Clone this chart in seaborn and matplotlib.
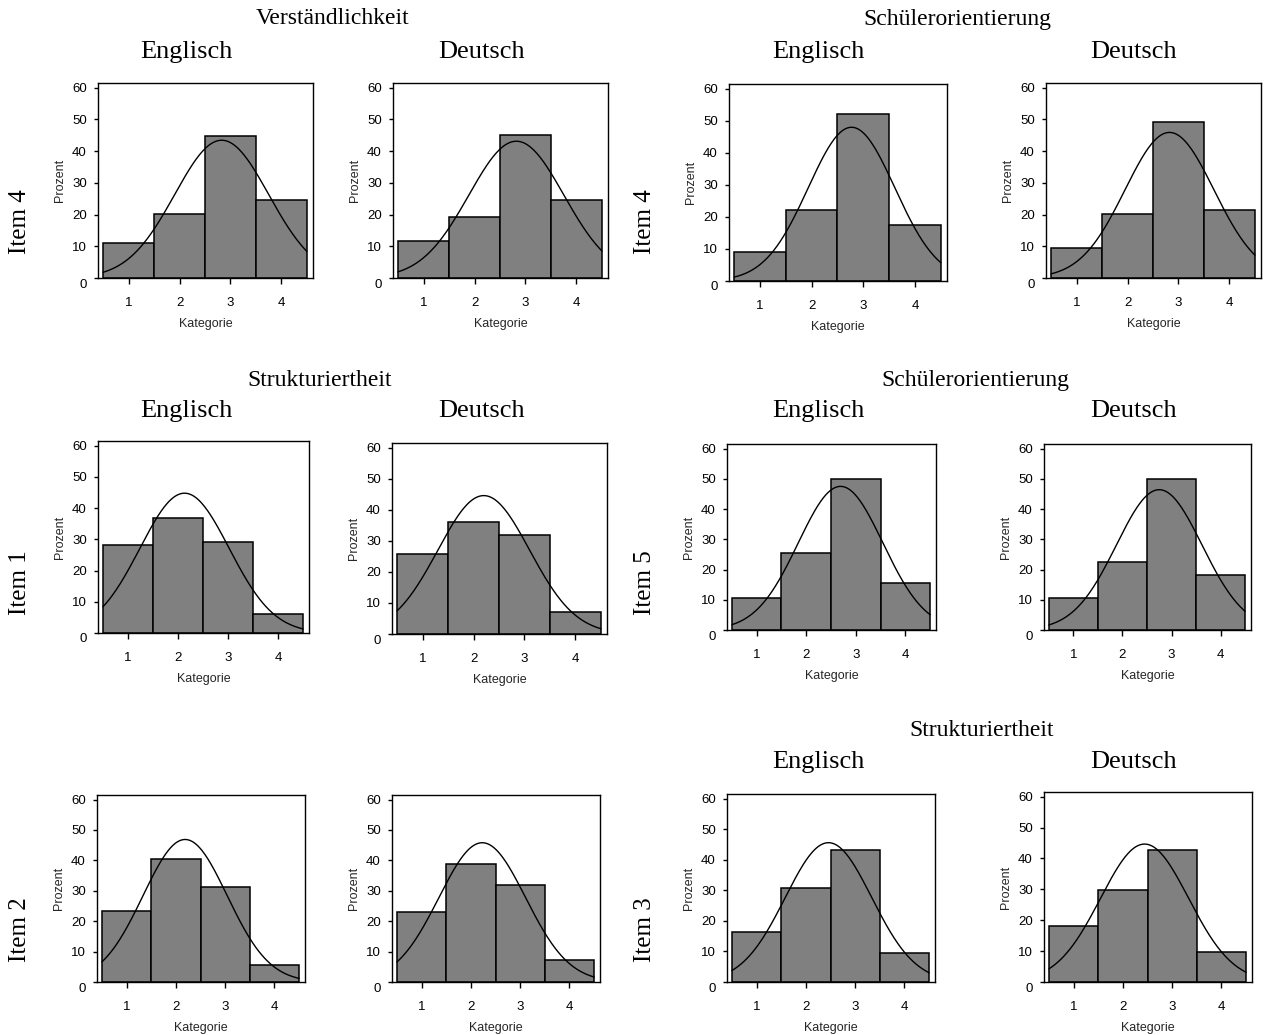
import numpy as np
import pandas as pd
import matplotlib
matplotlib.use("Agg")
import matplotlib.pyplot as plt
import seaborn as sns
from matplotlib.transforms import ScaledTranslation

# ---------------- data (percent per category) ----------------
kategorien = [1, 2, 3, 4]
y_ticks = [0, 10, 20, 30, 40, 50, 60]

verst_item4_englisch = [10.9, 20.1, 44.8, 24.6]
verst_item4_deutsch = [11.7, 19.3, 45.1, 24.7]
schuel_item4_englisch = [9.1, 22.2, 52.1, 17.4]
schuel_item4_deutsch = [9.4, 20.3, 49.2, 21.4]
strukt_item1_englisch = [28.1, 36.8, 29.2, 6.0]
strukt_item1_deutsch = [25.6, 36.1, 31.8, 7.0]
schuel_item5_englisch = [10.7, 25.4, 50.0, 15.6]
schuel_item5_deutsch = [10.7, 22.4, 50.0, 18.3]
strukt_item2_englisch = [23.3, 40.3, 31.1, 5.5]
strukt_item2_deutsch = [22.9, 38.9, 32.0, 7.1]
strukt_item3_englisch = [16.5, 30.8, 43.3, 9.6]
strukt_item3_deutsch = [18.0, 29.7, 42.7, 9.7]

# ---------------- style ----------------
sns.set_theme(style="ticks")
plt.rcParams["font.family"] = ["Liberation Sans", "DejaVu Sans"]

W, H = 1264, 1035
fig = plt.figure(figsize=(W / 100, H / 100), dpi=100)
fig.patch.set_facecolor("white")

def rect(l, t, r, b):
    return [l / W, 1 - b / H, (r - l) / W, (b - t) / H]

# (values, pixel box: left, top, right, bottom)
panels = [
    (verst_item4_englisch, (98, 83, 313, 278)),
    (verst_item4_deutsch, (393, 83, 608, 278)),
    (schuel_item4_englisch, (729, 84, 947, 281)),
    (schuel_item4_deutsch, (1046, 83, 1261, 278)),
    (strukt_item1_englisch, (98, 441, 309, 633)),
    (strukt_item1_deutsch, (392, 443, 607, 634)),
    (schuel_item5_englisch, (727, 444, 936, 630)),
    (schuel_item5_deutsch, (1044, 444, 1251, 630)),
    (strukt_item2_englisch, (97, 795, 305, 982)),
    (strukt_item2_deutsch, (392, 795, 600, 982)),
    (strukt_item3_englisch, (727, 794, 935, 982)),
    (strukt_item3_deutsch, (1044, 792, 1252, 982)),
]

for vals, box in panels:
    ax = fig.add_axes(rect(*box))
    df = pd.DataFrame({"Kategorie": kategorien, "Prozent": vals})
    sns.barplot(data=df, x="Kategorie", y="Prozent", native_scale=True,
                width=1.0, color="#808080", saturation=1, edgecolor="black",
                linewidth=1.1, errorbar=None, ax=ax)
    # fitted normal curve derived from the distribution
    p = np.array(vals)
    k = np.array(kategorien, dtype=float)
    tot = p.sum()
    mu = (p * k).sum() / tot
    sd = np.sqrt((p * (k - mu) ** 2).sum() / tot)
    xs = np.linspace(0.5, 4.5, 200)
    ys = tot * np.exp(-0.5 * ((xs - mu) / sd) ** 2) / (sd * np.sqrt(2 * np.pi))
    sns.lineplot(x=xs, y=ys, color="black", linewidth=1.0, ax=ax)

    ax.set_xlim(0.4, 4.62)
    ax.set_ylim(0, 61.5)
    ax.set_xticks(kategorien)
    ax.set_yticks(y_ticks)
    ax.set_xticklabels([str(c) for c in kategorien])
    ax.set_facecolor("white")
    for s in ax.spines.values():
        s.set_visible(True)
        s.set_color("black")
        s.set_linewidth(1.0)
    ax.tick_params(axis="x", direction="out", length=4, width=1, pad=10,
                   labelsize=9.5, colors="black")
    ax.tick_params(axis="y", direction="out", length=3, width=1, pad=5,
                   labelsize=9.5, colors="black")
    ax.set_xlabel("Kategorie", fontsize=9, labelpad=6)
    ax.set_ylabel("Prozent", fontsize=9, labelpad=4)
    # zero label sits a little lower, as in the original
    lab0 = ax.yaxis.get_major_ticks()[0].label1
    lab0.set_transform(lab0.get_transform() + ScaledTranslation(0, -0.05, fig.dpi_scale_trans))

serif = ["Liberation Serif", "DejaVu Serif"]

def ftext(x, y, s, size, rot=0):
    fig.text(x / W, 1 - y / H, s, ha="center", va="center", fontsize=size,
             family=serif, rotation=rot, color="black")

# group headings
ftext(333, 19, "Verständlichkeit", 17)
ftext(957, 19, "Schülerorientierung", 17)
ftext(320, 380, "Strukturiertheit", 17)
ftext(975, 380, "Schülerorientierung", 17)
ftext(982, 731, "Strukturiertheit", 17)

# subject headings
for (x, y) in [(186, 52), (818, 52), (186, 411), (818, 411), (818, 762)]:
    ftext(x, y, "Englisch", 19)
for (x, y) in [(482, 52), (1134, 52), (482, 411), (1134, 411), (1134, 762)]:
    ftext(x, y, "Deutsch", 19)

# item labels
ftext(20, 222, "Item 4", 18, rot=90)
ftext(645, 222, "Item 4", 18, rot=90)
ftext(20, 583, "Item 1", 18, rot=90)
ftext(645, 583, "Item 5", 18, rot=90)
ftext(20, 930, "Item 2", 18, rot=90)
ftext(645, 930, "Item 3", 18, rot=90)

fig.savefig("out.png", dpi=100, facecolor="white")
